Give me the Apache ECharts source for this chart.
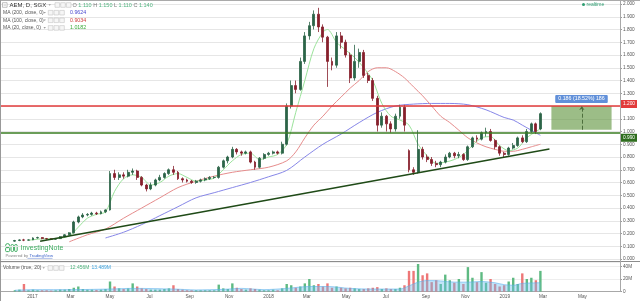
<!DOCTYPE html>
<html>
<head>
<meta charset="utf-8">
<script src="https://cdn.jsdelivr.net/npm/echarts@6/dist/echarts.min.js"></script>
<style>
html,body{margin:0;padding:0;background:#fff;overflow:hidden}
#chart{width:640px;height:301px}
</style>
</head>
<body>
<div id="chart"></div>
<script>
// ---------------- data ----------------
const weeks = [
'2016-12-05','2016-12-12','2016-12-19','2016-12-26',
'2017-01-02','2017-01-09','2017-01-16','2017-01-23','2017-01-30',
'2017-02-06','2017-02-13','2017-02-20','2017-02-27',
'2017-03-06','2017-03-13','2017-03-20','2017-03-27',
'2017-04-03','2017-04-10','2017-04-17','2017-04-24',
'2017-05-01','2017-05-08','2017-05-15','2017-05-22','2017-05-29',
'2017-06-05','2017-06-12','2017-06-19','2017-06-26',
'2017-07-03','2017-07-10','2017-07-17','2017-07-24','2017-07-31',
'2017-08-07','2017-08-14','2017-08-21','2017-08-28',
'2017-09-04','2017-09-11','2017-09-18','2017-09-25',
'2017-10-02','2017-10-09','2017-10-16','2017-10-23','2017-10-30',
'2017-11-06','2017-11-13','2017-11-20','2017-11-27',
'2017-12-04','2017-12-11','2017-12-18','2017-12-25',
'2018-01-01','2018-01-08','2018-01-15','2018-01-22','2018-01-29',
'2018-02-05','2018-02-12','2018-02-19','2018-02-26',
'2018-03-05','2018-03-12','2018-03-19','2018-03-26',
'2018-04-02','2018-04-09','2018-04-16','2018-04-23','2018-04-30',
'2018-05-07','2018-05-14','2018-05-21','2018-05-28',
'2018-06-04','2018-06-11','2018-06-18','2018-06-25',
'2018-07-02','2018-07-09','2018-07-16','2018-07-23','2018-07-30',
'2018-08-06','2018-08-13','2018-08-20','2018-08-27',
'2018-09-03','2018-09-10','2018-09-17','2018-09-24',
'2018-10-01','2018-10-08','2018-10-15','2018-10-22','2018-10-29',
'2018-11-05','2018-11-12','2018-11-19','2018-11-26',
'2018-12-03','2018-12-10','2018-12-17','2018-12-24','2018-12-31',
'2019-01-07','2019-01-14','2019-01-21','2019-01-28',
'2019-02-04','2019-02-11','2019-02-18','2019-02-25'
];
// [open, close, low, high]
const ohlc = [
[0.140,0.145,0.135,0.150],[0.145,0.150,0.140,0.155],[0.150,0.148,0.140,0.158],[0.148,0.150,0.145,0.155],
[0.150,0.165,0.148,0.170],[0.165,0.168,0.160,0.175],[0.168,0.160,0.155,0.172],[0.160,0.158,0.152,0.165],[0.158,0.155,0.150,0.162],
[0.155,0.160,0.150,0.165],[0.160,0.175,0.158,0.180],[0.175,0.190,0.170,0.195],[0.190,0.205,0.185,0.210],
[0.205,0.290,0.200,0.300],[0.290,0.330,0.280,0.340],[0.330,0.345,0.320,0.360],[0.345,0.350,0.335,0.360],
[0.350,0.360,0.340,0.370],[0.360,0.355,0.345,0.370],[0.355,0.370,0.350,0.380],[0.370,0.385,0.360,0.390],
[0.385,0.670,0.380,0.690],[0.670,0.640,0.620,0.700],[0.640,0.660,0.620,0.680],[0.660,0.650,0.630,0.680],[0.650,0.680,0.640,0.700],
[0.680,0.690,0.660,0.710],[0.690,0.640,0.620,0.700],[0.640,0.580,0.570,0.650],[0.580,0.550,0.530,0.590],
[0.550,0.580,0.540,0.600],[0.580,0.620,0.570,0.630],[0.620,0.640,0.610,0.660],[0.640,0.670,0.630,0.680],[0.670,0.700,0.660,0.710],
[0.700,0.680,0.660,0.730],[0.680,0.630,0.620,0.690],[0.630,0.620,0.600,0.640],[0.620,0.610,0.600,0.630],
[0.610,0.600,0.590,0.620],[0.600,0.610,0.590,0.620],[0.610,0.620,0.600,0.630],[0.620,0.630,0.610,0.640],
[0.630,0.640,0.620,0.650],[0.640,0.640,0.630,0.650],[0.640,0.720,0.630,0.730],[0.720,0.770,0.710,0.780],[0.770,0.800,0.750,0.810],
[0.800,0.860,0.790,0.880],[0.860,0.840,0.820,0.870],[0.840,0.830,0.810,0.850],[0.830,0.840,0.820,0.850],
[0.840,0.760,0.750,0.850],[0.760,0.720,0.700,0.770],[0.720,0.790,0.710,0.800],[0.790,0.820,0.780,0.830],
[0.820,0.830,0.810,0.840],[0.830,0.840,0.820,0.850],[0.840,0.830,0.820,0.850],[0.830,0.900,0.820,0.920],[0.900,1.200,0.890,1.220],
[1.200,1.360,1.180,1.400],[1.360,1.330,1.300,1.400],[1.330,1.550,1.320,1.580],[1.550,1.750,1.530,1.780],
[1.750,1.830,1.720,1.860],[1.830,1.920,1.800,1.950],[1.920,1.820,1.780,1.970],[1.820,1.740,1.700,1.840],
[1.740,1.550,1.350,1.750],[1.550,1.520,1.480,1.580],[1.520,1.750,1.500,1.780],[1.750,1.700,1.650,1.780],[1.700,1.600,1.580,1.720],
[1.600,1.420,1.380,1.620],[1.420,1.550,1.400,1.680],[1.550,1.620,1.500,1.650],[1.620,1.440,1.420,1.640],
[1.440,1.400,1.380,1.460],[1.400,1.260,1.240,1.420],[1.260,1.050,1.000,1.280],[1.050,1.120,1.030,1.150],
[1.120,1.060,1.000,1.130],[1.060,1.020,0.990,1.080],[1.020,1.120,1.000,1.140],[1.120,1.190,1.100,1.210],[1.190,1.050,1.000,1.210],
[0.850,0.700,0.680,0.860],[0.700,0.680,0.660,0.720],[0.680,0.860,0.670,1.010],[0.860,0.800,0.780,0.880],
[0.800,0.780,0.760,0.820],[0.780,0.750,0.730,0.800],[0.750,0.740,0.720,0.770],[0.740,0.760,0.720,0.770],
[0.760,0.800,0.750,0.820],[0.800,0.830,0.790,0.840],[0.830,0.810,0.790,0.840],[0.810,0.820,0.790,0.840],[0.820,0.780,0.770,0.830],
[0.780,0.880,0.770,0.890],[0.880,0.950,0.870,0.960],[0.950,0.940,0.920,0.970],[0.940,0.990,0.930,1.000],
[0.990,1.000,0.960,1.030],[1.000,0.930,0.920,1.020],[0.930,0.880,0.860,0.940],[0.880,0.830,0.810,0.890],[0.830,0.820,0.800,0.840],
[0.820,0.870,0.810,0.880],[0.870,0.890,0.860,0.910],[0.890,0.950,0.880,0.960],[0.950,0.920,0.910,0.970],
[0.920,1.000,0.910,1.020],[1.000,1.060,0.990,1.070],[1.060,1.000,0.980,1.070],[1.020,1.140,1.010,1.150]
];
// volume in millions
const volumeM = [
2,3,12,2,
3,2,2,2,1.5, 2,3,3,4, 6,8,4,3, 3,2.5,3,4, 16,8,5,4,5, 13,8,5,4, 3,3,3,4,5, 10,4,3,2, 2,2,2,2, 2,2,11,5,4, 13,6,4,3, 5,4,3,2,
2,3,2,5,12, 10,6,8,13, 20,10,12,8, 13,6,8,6,5, 6,5,4,4, 5,6,7,4, 5,4,4,6,10, 33,33,44,26, 29,15,18,12, 27,18,14,20,12, 39,22,15,31, 14,20,12,8,10,
16,22,12,29, 20,22,18,33
];
const ma200 = [
['2017-04-24',0.165],['2017-05-22',0.21],['2017-06-19',0.27],['2017-07-17',0.34],['2017-08-14',0.41],
['2017-09-11',0.48],['2017-10-09',0.52],['2017-11-06',0.56],['2017-12-04',0.60],['2018-01-01',0.645],
['2018-01-29',0.695],['2018-02-26',0.80],['2018-03-26',0.90],['2018-04-23',0.98],['2018-05-21',1.07],
['2018-06-18',1.15],['2018-07-16',1.20],['2018-08-13',1.215],['2018-09-10',1.22],['2018-10-08',1.22],
['2018-11-05',1.21],['2018-12-03',1.17],['2018-12-31',1.11],['2019-01-14',1.09],['2019-01-28',1.05],
['2019-02-11',1.01],['2019-02-25',0.97]
];
const ma100 = [
['2017-02-27',0.135],['2017-03-27',0.19],['2017-04-24',0.235],['2017-05-22',0.32],['2017-06-19',0.40],
['2017-07-17',0.48],['2017-08-14',0.56],['2017-09-11',0.61],['2017-10-09',0.65],['2017-11-06',0.68],
['2017-12-04',0.70],['2018-01-01',0.72],['2018-01-29',0.77],['2018-02-12',0.84],['2018-02-26',0.95],
['2018-03-12',1.05],['2018-03-26',1.12],['2018-04-09',1.20],['2018-04-23',1.27],['2018-05-07',1.34],
['2018-05-21',1.40],['2018-06-04',1.47],['2018-06-18',1.50],['2018-07-02',1.50],['2018-07-16',1.47],
['2018-07-30',1.42],['2018-08-13',1.35],['2018-08-27',1.28],['2018-09-10',1.20],['2018-09-24',1.12],
['2018-10-08',1.07],['2018-10-22',1.01],['2018-11-05',0.95],['2018-11-19',0.91],['2018-12-03',0.88],
['2018-12-17',0.86],['2018-12-31',0.845],['2019-01-14',0.845],['2019-01-28',0.86],['2019-02-11',0.88],
['2019-02-25',0.90]
];
const ma20 = [
['2016-12-26',0.147],['2017-01-16',0.158],['2017-02-06',0.16],['2017-02-27',0.18],['2017-03-13',0.25],
['2017-03-27',0.32],['2017-04-10',0.35],['2017-04-24',0.37],['2017-05-08',0.53],['2017-05-22',0.63],
['2017-06-05',0.66],['2017-06-19',0.64],['2017-07-03',0.58],['2017-07-17',0.60],['2017-07-31',0.65],
['2017-08-14',0.67],['2017-08-28',0.64],['2017-09-11',0.61],['2017-09-25',0.62],['2017-10-09',0.635],
['2017-10-23',0.70],['2017-11-06',0.77],['2017-11-20',0.82],['2017-12-04',0.83],['2017-12-18',0.78],
['2018-01-01',0.80],['2018-01-15',0.82],['2018-01-29',0.90],['2018-02-12',1.15],['2018-02-26',1.40],
['2018-03-12',1.65],['2018-03-26',1.78],['2018-04-02',1.80],['2018-04-16',1.70],['2018-04-30',1.64],
['2018-05-14',1.58],['2018-05-28',1.50],['2018-06-11',1.40],['2018-06-25',1.22],['2018-07-09',1.12],
['2018-07-23',1.09],['2018-08-06',1.05],['2018-08-20',0.90],['2018-09-03',0.81],['2018-09-17',0.75],
['2018-10-01',0.76],['2018-10-15',0.78],['2018-10-29',0.82],['2018-11-12',0.89],['2018-11-26',0.95],
['2018-12-10',0.96],['2018-12-24',0.89],['2019-01-07',0.85],['2019-01-21',0.87],['2019-02-04',0.95],
['2019-02-18',1.00],['2019-02-25',1.02]
];
const volumeMA = [
['2016-12-05',2],['2017-01-02',3],['2017-03-06',3],['2017-05-01',4],['2017-06-05',5],['2017-08-07',4],
['2017-09-11',2.5],['2017-10-23',3.5],['2017-11-20',5],['2017-12-25',3],['2018-01-29',5],['2018-03-05',8],
['2018-04-02',8],['2018-05-07',5],['2018-06-11',4],['2018-07-23',4],['2018-08-06',9],['2018-08-20',15],
['2018-09-03',17.5],['2018-09-24',17],['2018-10-15',15],['2018-11-05',15],['2018-11-26',16],['2018-12-17',14],
['2018-12-31',11],['2019-01-14',10],['2019-01-28',13],['2019-02-25',14]
];
const trendLine = [['2017-01-13',0.140],['2019-03-11',0.863]];
const resistance = 1.202;
const support = 0.987;
const rangeDates = ['2019-03-14','2019-06-15'];
const rangePrices = [1.200, 1.014];
const rangeArrowDate = '2019-04-30';
const rangeLabel = '0.186 (18.52%) 186';
const lastDayOHLC = [1.110, 1.150, 1.110, 1.140]; // O H L C shown in the header
const maNames = ['MA (200, close, 0)','MA (100, close, 0)','MA (20, close, 0)'];
const maValues = ['0.9624','0.9034','1.0182'];
const volNames = ['Volume (true, 20)'];
const volValues = ['12.456M','13.489M'];
const timeTicks = ['2017-01-01','2017-03-01','2017-05-01','2017-07-01','2017-09-01','2017-11-01',
'2018-01-01','2018-03-01','2018-05-01','2018-07-01','2018-09-01','2018-11-01','2019-01-01','2019-03-01','2019-05-01'];
const monthNames = ['Jan','Feb','Mar','Apr','May','Jun','Jul','Aug','Sep','Oct','Nov','Dec'];
const xRange = ['2016-11-12','2019-06-28'];

// ---------------- chart ----------------
const toTs = s => { const [y,m,d] = s.split('-').map(Number); return Date.UTC(y, m-1, d); };
const FONT = '"Liberation Sans", Arial, sans-serif';
const UP = '#2c6448', DOWN = '#86202c';
const last = ohlc[ohlc.length-1];
const candleData = weeks.map((d,i)=>[toTs(d), ohlc[i][0], ohlc[i][1], ohlc[i][2], ohlc[i][3]]);
const volData = weeks.map((d,i)=>({value:[toTs(d), volumeM[i]],
  itemStyle:{color: ohlc[i][1] >= ohlc[i][0] ? 'rgba(76,178,116,0.9)' : 'rgba(236,104,104,0.9)'}}));
const toLine = arr => arr.map(p=>[toTs(p[0]), p[1]]);
const priceLabel = (bg, off) => ({show:true, position:'end', distance:1, color:'#fff', backgroundColor:bg,
  fontSize:4.8, fontFamily:FONT, padding:[1.5,2], offset:off, formatter: p => Number(p.value).toFixed(3)});

const chart = echarts.init(document.getElementById('chart'), null, {renderer:'canvas'});

function txt(x, y, text, size, fill) {
  return {type:'text', z:100, silent:true,
    style:{x:x, y:y, text:text, fill:fill, font: size + 'px ' + FONT, verticalAlign:'middle'}};
}
function boxes(x, y) {
  const out = [];
  for (let k=0;k<3;k++) out.push({type:'rect', z:100, silent:true,
    shape:{x:x+k*5.7, y:y-2.3, width:4.6, height:4.6},
    style:{fill:'#f6f6f6', stroke:'#c4c4c4', lineWidth:0.6}});
  return out;
}
function caret(x, y) {
  return {type:'polygon', z:100, silent:true, shape:{points:[[x,y-0.8],[x+2.4,y-0.8],[x+1.2,y+0.8]]}, style:{fill:'#999'}};
}

const maColors = ['#4848cf','#d03a3a','#38a838'];
const f3 = v => v.toFixed(3);
const graphics = [
  {type:'line', z:90, silent:true, shape:{x1:0,y1:0.5,x2:640,y2:0.5}, style:{stroke:'#aaa', lineWidth:1}},
  {type:'line', z:90, silent:true, shape:{x1:0.5,y1:0,x2:0.5,y2:301}, style:{stroke:'#999', lineWidth:1}},
  {type:'line', z:90, silent:true, shape:{x1:0,y1:261.5,x2:640,y2:261.5}, style:{stroke:'#8c8c8c', lineWidth:1}},
  {type:'line', z:90, silent:true, shape:{x1:620.5,y1:0,x2:620.5,y2:292}, style:{stroke:'#a8a8a8', lineWidth:1}},
  {type:'rect', z:100, silent:true, shape:{x:2.5,y:2.7,width:4.6,height:4.6}, style:{fill:'#fff', stroke:'#999', lineWidth:0.6}},
  {type:'line', z:100, silent:true, shape:{x1:3.5,y1:5,x2:6.1,y2:5}, style:{stroke:'#999', lineWidth:0.6}},
  txt(9.5, 5.2, 'AEM, D, SGX', 6, '#333'),
  caret(48.5, 5),
  ...boxes(55, 5),
  {type:'text', z:100, silent:true, style:{x:72.5, y:5.2, verticalAlign:'middle',
    text:'{g|O} {v|'+f3(lastDayOHLC[0])+'} {g|H} {v|'+f3(lastDayOHLC[1])+'} {g|L} {v|'+f3(lastDayOHLC[2])+'} {g|C} {v|'+f3(lastDayOHLC[3])+'}',
    font:'5.5px '+FONT, fill:'#777',
    rich:{g:{fill:'#777', fontSize:5.5, fontFamily:FONT}, v:{fill:'#4fb37e', fontSize:5.5, fontFamily:FONT}}}},
  {type:'circle', z:100, silent:true, shape:{cx:583.5, cy:4.6, r:1.5}, style:{fill:'#2e9e72'}},
  txt(586.5, 4.8, 'realtime', 5, '#2e9e72'),
];
maNames.forEach((n,i)=>{
  const y = 12.7 + i*7.6;
  graphics.push(txt(3, y, n, 5, '#555'));
  graphics.push(caret(43.5, y));
  graphics.push(...boxes(48.3, y));
  graphics.push(txt(70, y, maValues[i], 5.3, maColors[i]));
});
graphics.push(txt(3, 268, volNames[0], 5, '#555'));
graphics.push(caret(42.5, 268));
graphics.push(...boxes(48, 268));
graphics.push(txt(70, 268, volValues[0], 5, '#4fb37e'));
graphics.push(txt(91.5, 268, volValues[1], 5, '#3aa0dc'));
graphics.push({type:'group', z:100, silent:true, children:[
  {type:'circle', shape:{cx:7.6, cy:245.6, r:2}, style:{fill:'none', stroke:'#3fae62', lineWidth:1}},
  {type:'rect', shape:{x:5.6, y:247.6, width:4, height:4, r:1}, style:{fill:'none', stroke:'#3fae62', lineWidth:1}},
  {type:'rect', shape:{x:11, y:244.5, width:2.6, height:7, r:1.2}, style:{fill:'none', stroke:'#3fae62', lineWidth:1}},
  {type:'rect', shape:{x:14.6, y:244.5, width:2.6, height:7, r:1.2}, style:{fill:'none', stroke:'#3fae62', lineWidth:1}}
]});
graphics.push(txt(20.5, 248.2, 'InvestingNote', 7, '#3fae62'));
graphics.push({type:'text', z:100, silent:true, style:{x:5.5, y:256.2, verticalAlign:'middle',
  text:'{a|Powered by }{b|TradingView}', font:'4.3px '+FONT,
  rich:{a:{fill:'#888', fontSize:4.3, fontFamily:FONT}, b:{fill:'#3a63c9', fontSize:4.3, fontFamily:FONT}}}});
graphics.push({type:'line', z:100, silent:true, shape:{x1:27.5,y1:258.4,x2:52.5,y2:258.4}, style:{stroke:'#3a63c9', lineWidth:0.4}});

const xMin = toTs(xRange[0]), xMax = toTs(xRange[1]);
const option = {
  animation:false,
  backgroundColor:'#fff',
  textStyle:{fontFamily:FONT},
  grid:[
    {left:0, right:20, top:4, height:255},
    {left:0, right:20, top:262, height:29.5}
  ],
  xAxis:[
    {type:'value', gridIndex:0, min:xMin, max:xMax, show:false, splitLine:{show:false}},
    {type:'value', gridIndex:1, min:xMin, max:xMax,
      axisLine:{show:true, onZero:false, lineStyle:{color:'#a8a8a8', width:1}},
      axisTick:{show:false}, splitLine:{show:false},
      axisLabel:{customValues: timeTicks.map(toTs), fontSize:4.7, color:'#555', margin:3, fontFamily:FONT,
        showMinLabel:true, showMaxLabel:true,
        formatter: v => { const d = new Date(v); return d.getUTCMonth()===0 ? String(d.getUTCFullYear()) : monthNames[d.getUTCMonth()]; }}}
  ],
  yAxis:[
    {type:'value', gridIndex:0, position:'right', min:0, max:2, interval:0.1,
      axisLine:{show:false}, axisTick:{show:true, length:2, lineStyle:{color:'#999'}},
      splitLine:{show:true, lineStyle:{color:'#e6e6e6', width:1}},
      axisLabel:{fontSize:4.7, color:'#555', margin:3, fontFamily:FONT, formatter: v => v.toFixed(3)}},
    {type:'value', gridIndex:1, position:'right', min:0, max:47.2, interval:20,
      axisLine:{show:false}, axisTick:{show:true, length:2, lineStyle:{color:'#999'}},
      splitLine:{show:true, lineStyle:{color:'#eeeeee'}},
      axisLabel:{fontSize:4.7, color:'#555', margin:3, fontFamily:FONT, showMaxLabel:false,
        formatter: v => v===0 ? '0' : v + 'M'}}
  ],
  series:[
    {type:'line', xAxisIndex:0, yAxisIndex:0, data:toLine(ma200), showSymbol:false, smooth:0.3,
      lineStyle:{color:'#8787e8', width:1}, z:2},
    {type:'line', xAxisIndex:0, yAxisIndex:0, data:toLine(ma100), showSymbol:false, smooth:0.3,
      lineStyle:{color:'#e68c8c', width:1}, z:2},
    {type:'line', xAxisIndex:0, yAxisIndex:0, data:toLine(ma20), showSymbol:false, smooth:0.3,
      lineStyle:{color:'#9be39b', width:1}, z:2},
    {type:'candlestick', xAxisIndex:0, yAxisIndex:0, data:candleData, encode:{x:0, y:[1,2,3,4]},
      barWidth:2.4, z:3,
      itemStyle:{color:UP, color0:DOWN, borderColor:UP, borderColor0:DOWN, borderWidth:0.8},
      markLine:{silent:true, symbol:['none','none'], animation:false,
        data:[
          {yAxis:resistance, lineStyle:{color:'#e23b3b', width:1.5, type:'solid'}, label:priceLabel('#e23b3b',[0,-2])},
          {yAxis:support, lineStyle:{color:'#3a7d22', width:1.5, type:'solid'}, label:priceLabel('#2f6e1f',[0,5])},
          {yAxis:last[1], lineStyle:{opacity:0}, label:priceLabel('#5e9f93',[0,0])}
        ]}},
    {type:'line', xAxisIndex:0, yAxisIndex:0, data:toLine(trendLine), showSymbol:false,
      lineStyle:{color:'#1f4a17', width:1.5}, z:4,
      markArea:{silent:true, itemStyle:{color:'rgba(95,148,62,0.62)'},
        label:{show:true, position:'top', distance:3, formatter:rangeLabel, backgroundColor:'#6190d9',
          color:'#fff', fontSize:5.3, fontFamily:FONT, padding:[1.5,3], borderRadius:1},
        data:[[{coord:[toTs(rangeDates[0]), rangePrices[0]]},{coord:[toTs(rangeDates[1]), rangePrices[1]]}]]},
      markLine:{silent:true, symbol:['none','arrow'], symbolSize:[4,4],
        lineStyle:{color:'#4d6e3c', type:'dashed', width:1}, label:{show:false},
        data:[[{coord:[toTs(rangeArrowDate), rangePrices[1]]},{coord:[toTs(rangeArrowDate), rangePrices[0]]}]]}},
    {type:'bar', xAxisIndex:1, yAxisIndex:1, data:volData, barWidth:2.4, z:2},
    {type:'line', xAxisIndex:1, yAxisIndex:1, data:toLine(volumeMA), showSymbol:false, smooth:0.3, z:3,
      lineStyle:{width:0.6, color:'rgba(90,175,235,0.95)'}, areaStyle:{color:'rgba(110,190,240,0.6)'}}
  ],
  graphic: graphics
};
chart.setOption(option);
</script>
</body>
</html>
